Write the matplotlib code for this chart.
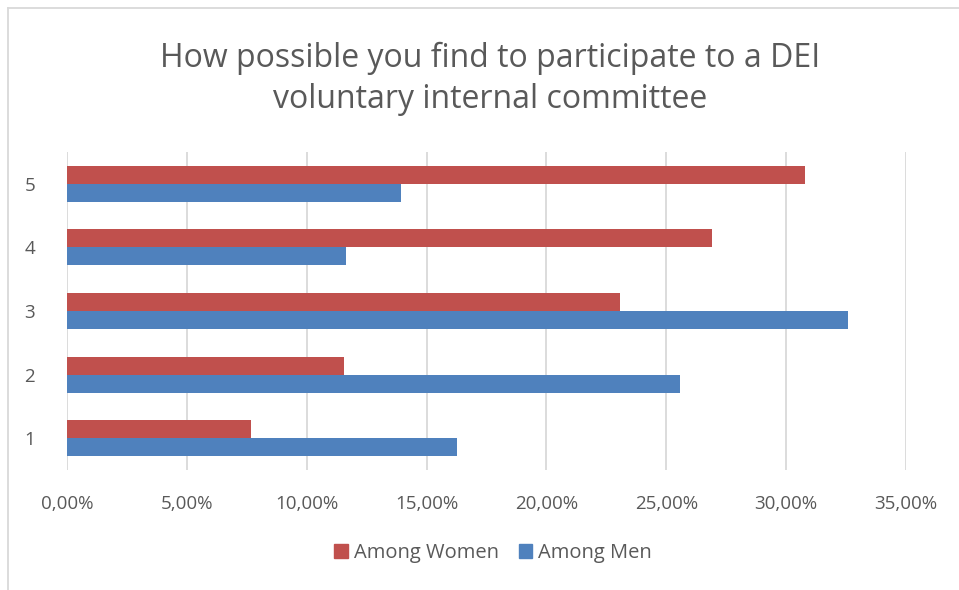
import matplotlib
matplotlib.use("Agg")
import matplotlib.pyplot as plt
from matplotlib.lines import Line2D
from matplotlib.patches import Patch
from matplotlib.ticker import FuncFormatter, MultipleLocator
import numpy as np

categories = ["1", "2", "3", "4", "5"]
women = [7.69, 11.54, 23.08, 26.92, 30.77]
men = [16.28, 25.58, 32.56, 11.63, 13.95]
series_names = ["Among Women", "Among Men"]
title = "How possible you find to participate to a DEI\nvoluntary internal committee"

RED = "#C0504D"
BLUE = "#4F81BD"
TXT = "#595959"
GRID = "#D9D9D9"

plt.rcParams['font.family'] = ['Open Sans', 'DejaVu Sans']

W, H = 959, 590
fig = plt.figure(figsize=(W / 100, H / 100), dpi=100)
ax = fig.add_axes([67 / W, 1 - 470 / H, (906 - 67) / W, (470 - 152) / H])

y = np.arange(1, len(categories) + 1)
h = 0.283
ax.barh(y + h / 2, women, height=h, color=RED, label=series_names[0], zorder=3)
ax.barh(y - h / 2, men, height=h, color=BLUE, label=series_names[1], zorder=3)

ax.set_xlim(0, 35)
ax.set_ylim(0.5, 5.5)
ax.xaxis.set_major_locator(MultipleLocator(5))
ax.xaxis.set_major_formatter(FuncFormatter(lambda v, p: f"{v:.2f}%".replace(".", ",")))
ax.set_yticks(y)
ax.set_yticklabels(categories)
ax.grid(axis="x", color=GRID, linewidth=1.3, zorder=0)
for s in ax.spines.values():
    s.set_visible(False)
ax.tick_params(axis="both", length=0, colors=TXT, labelsize=13.5)
ax.tick_params(axis="x", pad=18)
ax.tick_params(axis="y", pad=23)

fig.text(490 / W, 1 - 79 / H, title, ha="center", va="center", fontsize=23,
         color=TXT, linespacing=1.3)

handles = [Patch(color=RED), Patch(color=BLUE)]
fig.legend(handles, series_names, loc="center", bbox_to_anchor=(493 / W, 1 - 553 / H),
           ncol=2, frameon=False, fontsize=14.5, labelcolor=TXT,
           handlelength=0.65, handleheight=0.65, handletextpad=0.3, columnspacing=1.0)

fig.add_artist(Line2D([8 / W, 8 / W], [0, 1 - 7.5 / H], color=GRID, linewidth=1.3))
fig.add_artist(Line2D([8 / W, 1], [1 - 7.5 / H, 1 - 7.5 / H], color=GRID, linewidth=1.3))

fig.savefig("out.png", dpi=100, facecolor="white")
